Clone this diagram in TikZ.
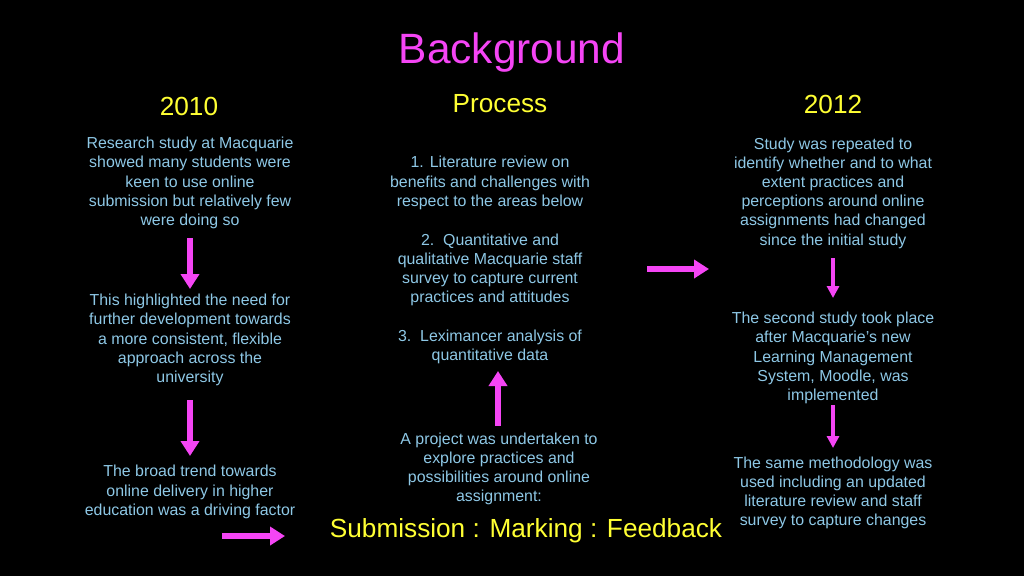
\documentclass[tikz,border=0pt]{standalone}
\usepackage{fontspec}
\setmainfont{Liberation Sans}
\usetikzlibrary{arrows.meta}
\definecolor{bodyblue}{HTML}{8EC8E6}
\definecolor{mag}{HTML}{F545F5}
\definecolor{yel}{HTML}{FFFF33}
\begin{document}
\begin{tikzpicture}[x=1pt,y=-1pt,
  body/.style={text=bodyblue,align=center,inner sep=0pt,font=\fontsize{15.9}{19.2}\selectfont},
  head/.style={text=yel,inner sep=0pt,font=\fontsize{26.2}{30}\selectfont},
  arrbig/.style={draw=mag,line width=5.5pt,-{Triangle[width=18pt,length=15pt]}},
  arrsmall/.style={draw=mag,line width=4pt,-{Triangle[width=12pt,length=12pt]}}]
\fill[black] (0,0) rectangle (1024,576);
\useasboundingbox (0,0) rectangle (1024,576);

\node[text=mag,inner sep=0pt,font=\fontsize{42.4}{50}\selectfont] (title) at (512,53) {Background};
\node[head] (y2010) at (189,106) {2010};
\node[head] (proc) at (500,104) {Process};
\node[head] (y2012) at (833,104) {2012};

% left column
\node[body] (l1) at (190,183) {Research study at Macquarie\\showed many students were\\keen to use online\\submission but relatively few\\were doing so};
\node[body] (l2) at (190,340) {This highlighted the need for\\further development towards\\a more consistent, flexible\\approach across the\\university};
\node[body] (l3) at (190,492) {The broad trend towards\\online delivery in higher\\education was a driving factor};

% middle
\node[body] (m1) at (490,183) {1. Literature review on\\benefits and challenges with\\respect to the areas below};
\node[body] (m2) at (490,270) {2.\ \ Quantitative and\\qualitative Macquarie staff\\survey to capture current\\practices and attitudes};
\node[body] (m3) at (490,347) {3.\ \ Leximancer analysis of\\quantitative data};
\node[body] (m4) at (499,469) {A project was undertaken to\\explore practices and\\possibilities around online\\assignment:};
\node[head] (sub) at (526,531) {Submission : Marking : Feedback};

% right
\node[body] (r1) at (833,193) {Study was repeated to\\identify whether and to what\\extent practices and\\perceptions around online\\assignments had changed\\since the initial study};
\node[body] (r2) at (833,358) {The second study took place\\after Macquarie's new\\Learning Management\\System, Moodle, was\\implemented};
\node[body] (r3) at (833,493) {The same methodology was\\used including an updated\\literature review and staff\\survey to capture changes};

% arrows
\coordinate (a1s) at (190,238); \coordinate (a1e) at (190,289);
\coordinate (a2s) at (190,400); \coordinate (a2e) at (190,456);
\draw[arrbig] (a1s) -- (a1e);
\draw[arrbig] (a2s) -- (a2e);
\coordinate (h1s) at (222,536); \coordinate (h1e) at (285,536);
\draw[arrbig] (h1s) -- (h1e);
\coordinate (ups) at (498,426); \coordinate (upe) at (498,371);
\draw[arrbig] (ups) -- (upe);
\coordinate (h2s) at (647,269); \coordinate (h2e) at (709,269);
\draw[arrbig] (h2s) -- (h2e);
\coordinate (r1s) at (833,258); \coordinate (r1e) at (833,298);
\draw[arrsmall] (r1s) -- (r1e);
\coordinate (r2s) at (833,405); \coordinate (r2e) at (833,448);
\draw[arrsmall] (r2s) -- (r2e);
\end{tikzpicture}
\end{document}
